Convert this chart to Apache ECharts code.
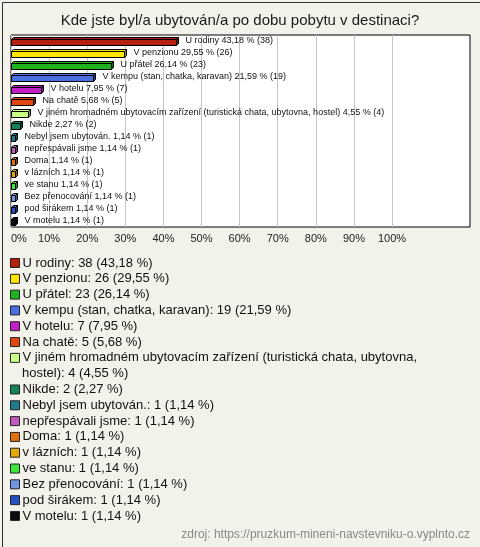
<!DOCTYPE html>
<html><head><meta charset="utf-8">
<script src="https://cdn.jsdelivr.net/npm/echarts@6/dist/echarts.min.js"></script>
<style>html,body{margin:0;padding:0;background:#f3f2ea}#c{width:480px;height:547px}</style>
</head><body><div id="c"></div>
<script>
const title = 'Kde jste byl/a ubytován/a po dobu pobytu v destinaci?';
const source = 'zdroj: https://pruzkum-mineni-navstevniku-o.vyplnto.cz';
const categories = ['U rodiny','V penzionu','U přátel','V kempu (stan, chatka, karavan)','V hotelu','Na chatě',
  'V jiném hromadném ubytovacím zařízení (turistická chata, ubytovna, hostel)','Nikde','Nebyl jsem ubytován.',
  'nepřespávali jsme','Doma','v lázních','ve stanu','Bez přenocování','pod širákem','V motelu'];
const counts = [38,26,23,19,7,5,4,2,1,1,1,1,1,1,1,1];
const percents = [43.18,29.55,26.14,21.59,7.95,5.68,4.55,2.27,1.14,1.14,1.14,1.14,1.14,1.14,1.14,1.14];
const colors = ['#b5200f','#ffe600','#1fb21f','#4a6fe3','#c21fc9','#e2450f','#ccff88','#14845a',
  '#1c7d8c','#c058c0','#e0700e','#e3a90a','#3ee63e','#6f98e0','#2552c2','#0a0a0a'];
const xMin = 0, xMax = 100, xStep = 10;

const FONT = '"Liberation Sans", Arial, sans-serif';
const pct = p => p.toFixed(2).replace('.', ',');
const barLabel = i => categories[i] + ' ' + pct(percents[i]) + ' % (' + counts[i] + ')';
const legendLabel = i => categories[i] + ': ' + counts[i] + ' (' + pct(percents[i]) + ' %)';

function darken(hex, f) {
  const n = parseInt(hex.slice(1), 16);
  return 'rgb(' + Math.round(((n >> 16) & 255) * f) + ',' + Math.round(((n >> 8) & 255) * f) + ',' + Math.round((n & 255) * f) + ')';
}

function renderBar(params, api) {
  const i = params.seriesIndex;
  const c = api.value(1);
  const p0 = api.coord([0, c]);
  const p1 = api.coord([api.value(0), c]);
  const x0 = Math.round(p0[0]) + 0.5, x1 = Math.round(p1[0]) + 0.5;
  const yc = Math.round(p0[1]);
  const h = 6, d = 2;
  const yt = yc - 2 + 0.5, yb = yt + h;
  const col = colors[i];
  const st = '#000';
  return {type: 'group', children: [
    {type: 'polygon', shape: {points: [[x0, yt], [x0 + d, yt - d], [x1 + d, yt - d], [x1, yt]]}, style: {fill: col, stroke: st, lineWidth: 1}},
    {type: 'polygon', shape: {points: [[x1, yt], [x1 + d, yt - d], [x1 + d, yb - d], [x1, yb]]}, style: {fill: darken(col, 0.6), stroke: st, lineWidth: 1}},
    {type: 'rect', shape: {x: x0, y: yt, width: x1 - x0, height: h}, style: {fill: col, stroke: st, lineWidth: 1}},
    {type: 'text', style: {text: barLabel(i), x: x1 + 9, y: yc, verticalAlign: 'middle', font: '9px ' + FONT, fill: '#111'}}
  ]};
}

// legend wrapping
const ctx = document.createElement('canvas').getContext('2d');
ctx.font = '13px ' + FONT;
function wrap(text, maxW) {
  const words = text.split(' ');
  const lines = []; let cur = '';
  words.forEach(w => {
    const t = cur ? cur + ' ' + w : w;
    if (ctx.measureText(t).width > maxW && cur) { lines.push(cur); cur = w; } else cur = t;
  });
  if (cur) lines.push(cur);
  return lines;
}

const LH = 15.81, legTop0 = 263, iconLeft = 10, textLeft = 22;
const legends = [], graphics = [];
let line = 0, group = null;
categories.forEach((name, i) => {
  const lines = wrap(legendLabel(i), 440);
  if (!group) {
    group = {show: true, orient: 'vertical', left: iconLeft, top: legTop0 + line * LH - 8, padding: 0,
      itemWidth: 9, itemHeight: 9, itemGap: LH - 16, icon: 'rect', selectedMode: false,
      itemStyle: {borderColor: '#222', borderWidth: 1},
      textStyle: {fontFamily: FONT, fontSize: 13, color: '#111', lineHeight: 16, padding: [0, 0, 0, -2]},
      data: [], formatter: n => wrap(legendLabel(categories.indexOf(n)), 440)[0]};
    legends.push(group);
  }
  group.data.push(name);
  line += 1;
  for (let k = 1; k < lines.length; k++) {
    graphics.push({type: 'text', left: textLeft, top: legTop0 + line * LH - 8,
      style: {text: lines[k], font: '13px ' + FONT, fill: '#111', lineHeight: 16}});
    line += 1;
  }
  if (lines.length > 1) group = null;
});

graphics.push({type: 'rect', left: 0, top: 0, shape: {x: 0.5, y: 0.5, width: 478, height: 545},
  style: {fill: 'none', stroke: '#333', lineWidth: 1}, silent: true, z: 100});
graphics.push({type: 'text', right: 10, top: 529, style: {text: source, font: '12px ' + FONT, fill: '#888'}});

const series = categories.map((name, i) => ({
  name, type: 'custom', xAxisIndex: 0, yAxisIndex: 0,
  renderItem: renderBar, itemStyle: {color: colors[i]},
  encode: {x: 0, y: 1}, clip: false, silent: true,
  data: [[percents[i], name, counts[i]]]
}));

const chart = echarts.init(document.getElementById('c'), null, {renderer: 'canvas'});
chart.setOption({
  backgroundColor: '#f3f2ea',
  animation: false,
  title: {text: title, left: 'center', top: 13, padding: 0,
    textStyle: {fontFamily: FONT, fontSize: 15, fontWeight: 'normal', color: '#1a1a1a'}},
  grid: [
    {left: 11, width: 381, top: 35, height: 192, containLabel: false, outerBoundsMode: 'none'},
    {left: 11, right: 10, top: 35, height: 192, show: true, backgroundColor: '#fff', borderColor: '#000', borderWidth: 1, containLabel: false, outerBoundsMode: 'none'}
  ],
  xAxis: [
    {type: 'value', gridIndex: 0, min: xMin, max: xMax, interval: xStep,
      axisLine: {show: false}, axisTick: {show: false},
      splitLine: {show: true, lineStyle: {color: '#c4c4c4', width: 1}},
      axisLabel: {formatter: '{value}%', margin: 6, fontFamily: FONT, fontSize: 11, color: '#222', alignMinLabel: 'left'}},
    {type: 'value', gridIndex: 1, show: false, min: 0, max: 1, splitLine: {show: false}}
  ],
  yAxis: [
    {type: 'category', gridIndex: 0, data: categories, inverse: true, show: false},
    {type: 'category', gridIndex: 1, data: ['a'], show: false}
  ],
  legend: legends,
  graphic: graphics,
  series
});
</script></body></html>
